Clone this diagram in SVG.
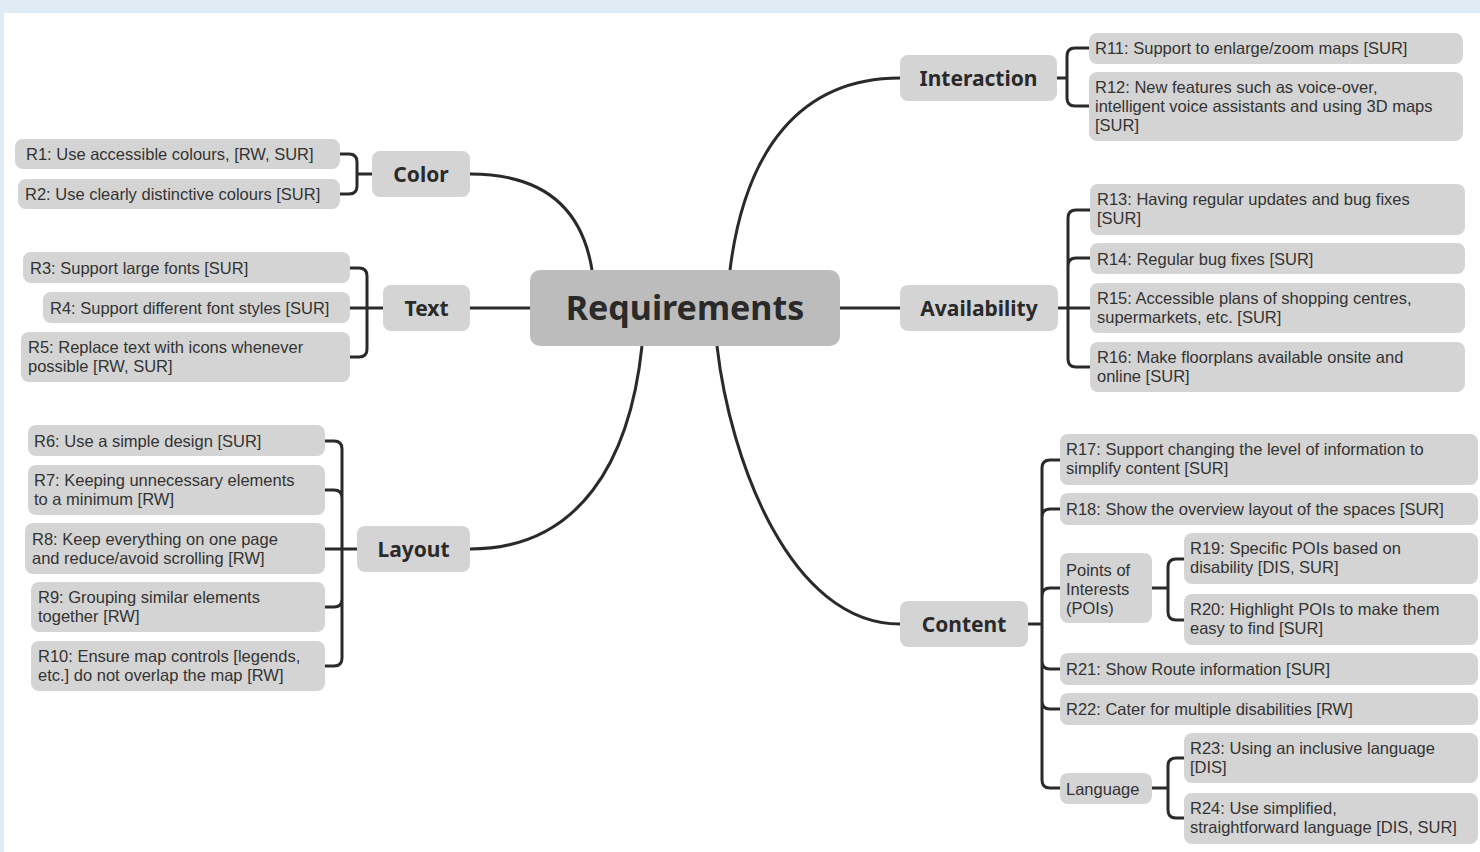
<svg xmlns="http://www.w3.org/2000/svg" width="1480" height="852" viewBox="0 0 1480 852">
<style>
.leaf{fill:#d4d4d4}
.cat{fill:#d4d4d4}
.root{fill:#bcbcbc}
text{font-family:"Noto Sans","Liberation Sans",sans-serif;fill:#333}
.lt{font-family:"Liberation Sans",Arial,sans-serif;font-size:16.5px}
.ct{font-size:21px;font-weight:bold;text-anchor:middle;fill:#2a2a2a}
.rt{font-size:34px;font-weight:bold;text-anchor:middle;fill:#2a2a2a}
.ln{fill:none;stroke:#2a2a2a;stroke-width:3}
</style>
<rect x="0" y="0" width="1480" height="852" fill="#e0ecf5"/>
<rect x="4" y="13" width="1476" height="839" fill="#ffffff"/>
<g id="connectors">
<path class="ln" d="M470,174 C555,174 584,220 592,270"/>
<path class="ln" d="M470,308 H530"/>
<path class="ln" d="M642,346 C630,460 580,549 470,549"/>
<path class="ln" d="M730,270 C745,150 800,78 900,78"/>
<path class="ln" d="M840,308 H900"/>
<path class="ln" d="M717,346 C730,460 790,624 900,624"/>
<path class="ln" d="M340,154 H349 Q357,154 357,162 V186 Q357,194 349,194 H340 M357,174 H372"/>
<path class="ln" d="M350,268 H359 Q367,268 367,276 V349 Q367,357 359,357 H350 M350,308 H383"/>
<path class="ln" d="M325,441 H334 Q342,441 342,449 V658 Q342,666 334,666 H325 M325,490 H334 Q342,490 342,498 M325,607 H334 Q342,607 342,599 M325,549 H357"/>
<path class="ln" d="M1089,48 H1075 Q1067,48 1067,56 V98 Q1067,106 1075,106 H1089 M1057,78 H1067"/>
<path class="ln" d="M1090,210 H1076 Q1068,210 1068,218 V359 Q1068,367 1076,367 H1090 M1090,258 H1076 Q1068,258 1068,266 M1058,308 H1090"/>
<path class="ln" d="M1060,460 H1050 Q1042,460 1042,468 V780 Q1042,788 1050,788 H1060 M1060,509 H1050 Q1042,509 1042,517 M1060,588 H1050 Q1042,588 1042,596 M1060,669 H1050 Q1042,669 1042,661 M1060,709 H1050 Q1042,709 1042,701 M1028,624 H1042"/>
<path class="ln" d="M1184,559 H1176 Q1168,559 1168,567 V612 Q1168,620 1176,620 H1184 M1152,588 H1168"/>
<path class="ln" d="M1184,758 H1176 Q1168,758 1168,766 V810 Q1168,818 1176,818 H1184 M1152,788 H1168"/>
</g>
<g id="root"><rect class="root" x="530" y="270" width="310" height="76" rx="10"/><text class="rt" x="685" y="320">Requirements</text></g>
<g id="color"><rect class="cat" x="372" y="151" width="98" height="46" rx="8"/><text class="ct" x="421" y="181.5">Color</text></g>
<g id="text"><rect class="cat" x="383" y="285" width="87" height="46" rx="8"/><text class="ct" x="426.5" y="315.5">Text</text></g>
<g id="layout"><rect class="cat" x="357" y="526" width="113" height="46" rx="8"/><text class="ct" x="413.5" y="556.5">Layout</text></g>
<g id="interaction"><rect class="cat" x="900" y="55" width="157" height="46" rx="8"/><text class="ct" x="978.5" y="85.5">Interaction</text></g>
<g id="availability"><rect class="cat" x="900" y="285" width="158" height="46" rx="8"/><text class="ct" x="979" y="315.5">Availability</text></g>
<g id="content"><rect class="cat" x="900" y="601" width="128" height="46" rx="8"/><text class="ct" x="964" y="631.5">Content</text></g>
<g id="r1"><rect class="leaf" x="15" y="139" width="325" height="30" rx="8"/><text class="lt" x="26" y="160">R1: Use accessible colours, [RW, SUR]</text></g>
<g id="r2"><rect class="leaf" x="18" y="179" width="322" height="30" rx="8"/><text class="lt" x="25" y="200">R2: Use clearly distinctive colours [SUR]</text></g>
<g id="r3"><rect class="leaf" x="23" y="252" width="327" height="31" rx="8"/><text class="lt" x="30" y="274">R3: Support large fonts [SUR]</text></g>
<g id="r4"><rect class="leaf" x="43" y="292" width="307" height="31" rx="8"/><text class="lt" x="50" y="314">R4: Support different font styles [SUR]</text></g>
<g id="r5"><rect class="leaf" x="21" y="332" width="329" height="50" rx="8"/><text class="lt" x="28" y="352.5">R5: Replace text with icons whenever<tspan x="28" y="371.5">possible [RW, SUR]</tspan></text></g>
<g id="r6"><rect class="leaf" x="28" y="425" width="297" height="31" rx="8"/><text class="lt" x="34" y="447">R6: Use a simple design [SUR]</text></g>
<g id="r7"><rect class="leaf" x="28" y="465" width="297" height="50" rx="8"/><text class="lt" x="34" y="485.5">R7: Keeping unnecessary elements<tspan x="34" y="504.5">to a minimum [RW]</tspan></text></g>
<g id="r8"><rect class="leaf" x="25" y="523" width="300" height="51" rx="8"/><text class="lt" x="32" y="544.5">R8: Keep everything on one page<tspan x="32" y="563.5">and reduce/avoid scrolling [RW]</tspan></text></g>
<g id="r9"><rect class="leaf" x="31" y="582" width="294" height="50" rx="8"/><text class="lt" x="38" y="602.5">R9: Grouping similar elements<tspan x="38" y="621.5">together [RW]</tspan></text></g>
<g id="r10"><rect class="leaf" x="31" y="641" width="294" height="50" rx="8"/><text class="lt" x="38" y="661.5">R10: Ensure map controls [legends,<tspan x="38" y="680.5">etc.] do not overlap the map [RW]</tspan></text></g>
<g id="r11"><rect class="leaf" x="1089" y="33" width="374" height="31" rx="8"/><text class="lt" x="1095" y="54">R11: Support to enlarge/zoom maps [SUR]</text></g>
<g id="r12"><rect class="leaf" x="1089" y="72" width="374" height="69" rx="8"/><text class="lt" x="1095" y="93">R12: New features such as voice-over,<tspan x="1095" y="112">intelligent voice assistants and using 3D maps</tspan><tspan x="1095" y="131">[SUR]</tspan></text></g>
<g id="r13"><rect class="leaf" x="1090" y="184" width="375" height="51" rx="8"/><text class="lt" x="1097" y="205">R13: Having regular updates and bug fixes<tspan x="1097" y="224">[SUR]</tspan></text></g>
<g id="r14"><rect class="leaf" x="1090" y="243" width="375" height="31" rx="8"/><text class="lt" x="1097" y="264.5">R14: Regular bug fixes [SUR]</text></g>
<g id="r15"><rect class="leaf" x="1090" y="283" width="375" height="50" rx="8"/><text class="lt" x="1097" y="303.5">R15: Accessible plans of shopping centres,<tspan x="1097" y="322.5">supermarkets, etc. [SUR]</tspan></text></g>
<g id="r16"><rect class="leaf" x="1090" y="342" width="375" height="50" rx="8"/><text class="lt" x="1097" y="362.5">R16: Make floorplans available onsite and<tspan x="1097" y="381.5">online [SUR]</tspan></text></g>
<g id="r17"><rect class="leaf" x="1060" y="434" width="418" height="51" rx="8"/><text class="lt" x="1066" y="455">R17: Support changing the level of information to<tspan x="1066" y="474">simplify content [SUR]</tspan></text></g>
<g id="r18"><rect class="leaf" x="1060" y="493" width="418" height="32" rx="8"/><text class="lt" x="1066" y="515">R18: Show the overview layout of the spaces [SUR]</text></g>
<g id="pois"><rect class="leaf" x="1060" y="553" width="92" height="70" rx="8"/><text class="lt" x="1066" y="575.5">Points of<tspan x="1066" y="594.5">Interests</tspan><tspan x="1066" y="613.5">(POIs)</tspan></text></g>
<g id="r19"><rect class="leaf" x="1184" y="533" width="294" height="51" rx="8"/><text class="lt" x="1190" y="554">R19: Specific POIs based on<tspan x="1190" y="573">disability [DIS, SUR]</tspan></text></g>
<g id="r20"><rect class="leaf" x="1184" y="594" width="294" height="51" rx="8"/><text class="lt" x="1190" y="615">R20: Highlight POIs to make them<tspan x="1190" y="634">easy to find [SUR]</tspan></text></g>
<g id="r21"><rect class="leaf" x="1060" y="653" width="418" height="32" rx="8"/><text class="lt" x="1066" y="675">R21: Show Route information [SUR]</text></g>
<g id="r22"><rect class="leaf" x="1060" y="693" width="418" height="32" rx="8"/><text class="lt" x="1066" y="715">R22: Cater for multiple disabilities [RW]</text></g>
<g id="language"><rect class="leaf" x="1060" y="773" width="92" height="31" rx="8"/><text class="lt" x="1066" y="794.5">Language</text></g>
<g id="r23"><rect class="leaf" x="1184" y="733" width="294" height="50" rx="8"/><text class="lt" x="1190" y="753.5">R23: Using an inclusive language<tspan x="1190" y="772.5">[DIS]</tspan></text></g>
<g id="r24"><rect class="leaf" x="1184" y="793" width="294" height="51" rx="8"/><text class="lt" x="1190" y="814">R24: Use simplified,<tspan x="1190" y="833">straightforward language [DIS, SUR]</tspan></text></g>
</svg>
